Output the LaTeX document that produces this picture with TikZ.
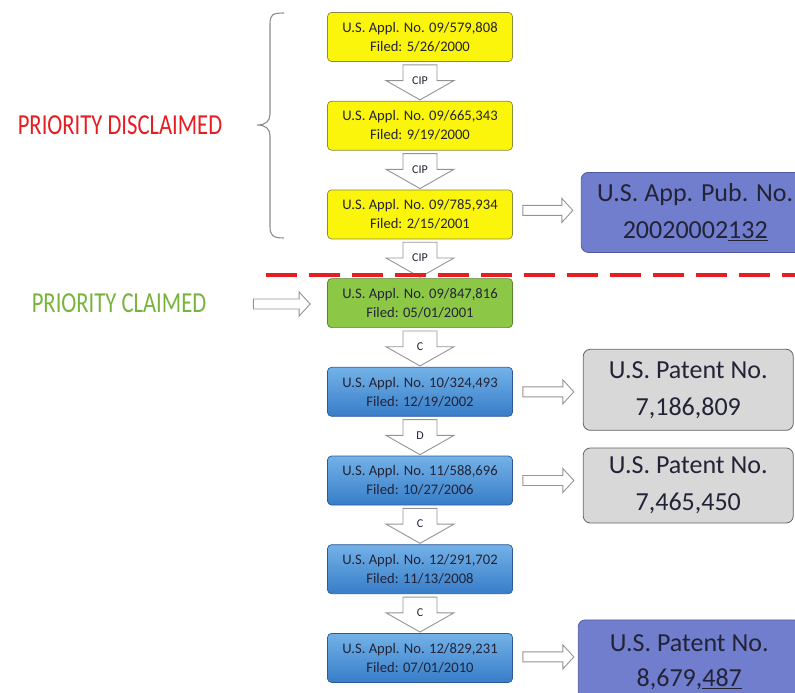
\documentclass[tikz,border=0pt]{standalone}
\usepackage{fontspec}
\setmainfont{Carlito}
\usepackage{graphicx}
\usetikzlibrary{positioning,calc}

\definecolor{box_yellow}{RGB}{250,245,10}
\definecolor{edge_yellow}{RGB}{140,140,60}
\definecolor{box_green}{RGB}{140,200,70}
\definecolor{edge_green}{RGB}{90,130,50}
\definecolor{blue_top}{RGB}{115,178,232}
\definecolor{blue_bot}{RGB}{55,125,200}
\definecolor{edge_blue}{RGB}{45,90,150}
\definecolor{box_pub}{RGB}{112,126,205}
\definecolor{edge_pub}{RGB}{80,90,160}
\definecolor{box_grey}{RGB}{216,216,216}
\definecolor{edge_grey}{RGB}{100,100,100}
\definecolor{txt}{RGB}{35,35,55}
\definecolor{line_red}{RGB}{230,30,35}
\definecolor{lbl_green}{RGB}{120,180,60}

\newcommand{\downarr}[3]{%
    \draw[hollow_arrow] let \p1=($(#1.south)+(0,-3pt)$), \p2=($(#2.north)+(0,1pt)$), \p3=($(\p1)!0.45!(\p2)$) in
        (\x1-17pt,\y1) -- (\x1+17pt,\y1) -- (\x1+17pt,\y3) -- (\x1+34pt,\y3) -- (\x1,\y2)
        -- (\x1-34pt,\y3) -- (\x1-17pt,\y3) -- cycle
        (\x1,\y3) node[arr_label]{#3};
}
\newcommand{\rightarr}[2]{%
    \draw[hollow_arrow] let \p1=(#1), \p2=(#2) in
        (\x1,\y1+5pt) -- (\x2-11pt,\y1+5pt) -- (\x2-11pt,\y1+12pt) -- (\x2,\y1)
        -- (\x2-11pt,\y1-12pt) -- (\x2-11pt,\y1-5pt) -- (\x1,\y1-5pt) -- cycle;
}

\begin{document}
\begin{tikzpicture}[
    x=1pt, y=-1pt,
    app_box/.style={
        draw, rounded corners=4pt, minimum width=185pt, minimum height=49pt,
        align=center, text=txt, font=\fontsize{14.6}{19}\selectfont, line width=.7pt,
    },
    yellow_box/.style={
        app_box, fill=box_yellow, draw=edge_yellow
    },
    green_box/.style={
        app_box, fill=box_green, draw=edge_green
    },
    blue_box/.style={
        app_box, top color=blue_top, bottom color=blue_bot, draw=edge_blue
    },
    res_box/.style={
        draw, rounded corners=7pt, minimum width=210pt, minimum height=80pt,
        align=center, text=txt, font=\fontsize{26}{37}\selectfont, line width=.8pt,
    },
    grey_box/.style={
        res_box, fill=box_grey, draw=edge_grey
    },
    pub_box/.style={
        res_box, fill=box_pub, draw=edge_pub
    },
    hollow_arrow/.style={
        draw=black!42, fill=white, line width=.9pt, line join=miter
    },
    arr_label/.style={
        text=txt, font=\fontsize{12}{13}\selectfont, inner sep=0pt
    },
    side_label/.style={
        font=\fontsize{29}{32}\selectfont, inner sep=0pt
    },
]
    \useasboundingbox (0,0) rectangle (795,693);
    \clip (0,0) rectangle (795,693);

    \node[yellow_box] at (420,37) (y1) {U.S. Appl. No. 09/579,808\\Filed: 5/26/2000};
    \node[yellow_box,below=39pt of y1](y2){U.S. Appl. No. 09/665,343\\Filed: 9/19/2000};
    \node[yellow_box,below=39pt of y2](y3){U.S. Appl. No. 09/785,934\\Filed: 2/15/2001};
    \node[green_box,below=39pt of y3](g1){U.S. Appl. No. 09/847,816\\Filed: 05/01/2001};
    \node[blue_box,below=39pt of g1](b1){U.S. Appl. No. 10/324,493\\Filed: 12/19/2002};
    \node[blue_box,below=39pt of b1](b2){U.S. Appl. No. 11/588,696\\Filed: 10/27/2006};
    \node[blue_box,below=39pt of b2](b3){U.S. Appl. No. 12/291,702\\Filed: 11/13/2008};
    \node[blue_box,below=39pt of b3](b4){U.S. Appl. No. 12/829,231\\Filed: 07/01/2010};

    \node[pub_box,right=68pt of y3,yshift=2pt,minimum width=228pt](pub){U.S. App. Pub. No.\\20020002\underline{132}};
    \node[grey_box,right=70pt of b1,yshift=2pt,minimum height=81pt](p1){U.S. Patent No.\\7,186,809};
    \node[grey_box,right=70pt of b2,yshift=-5pt,minimum height=75pt](p2){U.S. Patent No.\\7,465,450};
    \node[pub_box,right=65pt of b4,yshift=-4pt,minimum width=222pt,minimum height=84pt,font=\fontsize{26}{35}\selectfont](p3){U.S. Patent No.\\8,679,\underline{487}};

    \node[side_label,text=line_red] at (120,125) (dis){\scalebox{0.78}[1]{PRIORITY DISCLAIMED}};
    \node[side_label,text=lbl_green] at (119,303) (cl){\scalebox{0.78}[1]{PRIORITY CLAIMED}};

    \draw[black!45,line width=1.1pt] (284,13) .. controls (272,13) and (270,15) .. (270,24) -- (270,114)
        .. controls (270,121) and (266,125) .. (257,125) .. controls (266,125) and (270,129) .. (270,136)
        -- (270,226) .. controls (270,235) and (272,238) .. (284,238);

    \downarr{y1}{y2}{CIP}
    \downarr{y2}{y3}{CIP}
    \downarr{y3}{g1}{CIP}
    \downarr{g1}{b1}{C}
    \downarr{b1}{b2}{D}
    \downarr{b2}{b3}{C}
    \downarr{b3}{b4}{C}

    \draw[line_red,line width=4pt,dash pattern=on 31pt off 12pt] (266,275) -- (795,275);

    \rightarr{$(y3.east)+(10pt,4pt)$}{$(pub.west)+(-8pt,0)$}
    \rightarr{$(b1.east)+(10pt,0)$}{$(p1.west)+(-9pt,0)$}
    \rightarr{$(b2.east)+(10pt,0)$}{$(p2.west)+(-9pt,0)$}
    \rightarr{$(b4.east)+(10pt,1pt)$}{$(p3.west)+(-4pt,0)$}
    \rightarr{$(cl.east)+(47pt,-1pt)$}{$(g1.west)+(-17pt,0)$}

\end{tikzpicture}
\end{document}
